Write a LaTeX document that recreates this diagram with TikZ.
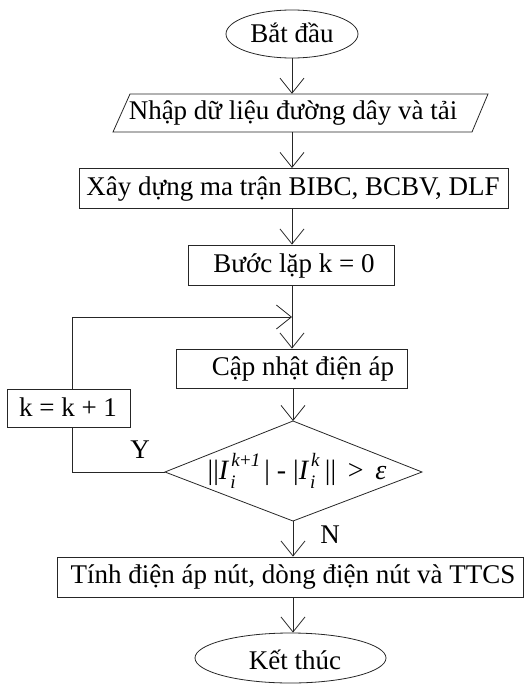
\documentclass[tikz,border=0pt]{standalone}
\usepackage{fontspec}
\setmainfont{Liberation Serif}
\usetikzlibrary{arrows.meta,shapes.geometric}
\newcommand\Iik[1]{\textit{I}\makebox[0pt][l]{\raisebox{-9pt}{\fontsize{19}{19}\selectfont\kern1pt\textit{i}}}\raisebox{13pt}{\fontsize{19}{19}\selectfont\kern2pt #1}}
\tikzset{
  every node/.style={font=\fontsize{27}{31}\selectfont, inner sep=0pt},
  ln/.style={line width=0.8pt, draw=black!85},
  boxnode/.style={ln, draw, rectangle},
  arr/.style={ln, -{Straight Barb[length=15pt,width=24pt,line width=0.8pt]}},
}
\begin{document}
\begin{tikzpicture}[x=1pt,y=-1pt]
\useasboundingbox (0,0) rectangle (528,685);
% start
\node[ln, draw, ellipse, minimum width=132, minimum height=48] (start) at (292,34) {};
\node at (292,33) {Bắt đầu};
% input parallelogram
\draw[ln] (113,132) -- (130,94) -- (488,94) -- (472,132) -- cycle;
\node[minimum width=340, minimum height=38] (inp) at (300,113) {};
\node at (293,113) {Nhập dữ liệu đường dây và tải};
% build
\node[boxnode, minimum width=429, minimum height=40] (build) at (293.5,188) {};
\node at (293,189) {Xây dựng ma trận BIBC, BCBV, DLF};
% init
\node[boxnode, minimum width=206, minimum height=40] (init) at (291,265) {};
\node at (294,266) {Bước lặp k = 0};
% update
\node[boxnode, minimum width=231, minimum height=39] (upd) at (291.5,368.5) {};
\node at (303,369) {Cập nhật điện áp};
% decision
\coordinate (dtop) at (293,421);
\coordinate (dright) at (422,472);
\coordinate (dbot) at (293,521);
\coordinate (dleft) at (165,472);
\draw[ln] (dtop) -- (dright) -- (dbot) -- (dleft) -- cycle;
\node (dtext) at (297,471) {\fontsize{28}{30}\selectfont||\Iik{\textit{k}+\textit{1}}\kern4pt| - |\Iik{\textit{k}}\kern5pt|| \,>\, \textit{ε}};
% increment
\node[boxnode, minimum width=123, minimum height=38] (inc) at (68.5,408) {};
\node at (68,407) {k = k + 1};
% calc
\node[boxnode, minimum width=466, minimum height=40] (calc) at (290,577) {};
\node at (293,577) {Tính điện áp nút, dòng điện nút và TTCS};
% end
\node[ln, draw, ellipse, minimum width=191, minimum height=50] (endn) at (290.5,658) {};
\node at (295,660) {Kết thúc};
% connectors
\draw[arr] (start.south) -- (start.south |- inp.north);
\draw[arr] (292,132) -- (292,168);
\draw[arr] (build.south -| 292,0) -- (init.north -| 292,0);
\draw[arr] (init.south -| 292,0) -- (upd.north -| 292,0);
\coordinate (loopc) at (72,317);
\draw[arr] (inc.north -| loopc) -- (loopc) -- (292,317);
\draw[ln] (dleft) -- (dleft -| loopc) -- (inc.south -| loopc);
\draw[arr] (upd.south -| 293,0) -- (dtop);
\draw[arr] (dbot) -- (calc.north -| dbot);
\draw[arr] (calc.south -| dbot) -- (endn.north -| dbot);
\node at (140,450) {Y};
\node at (330,535) {N};
\end{tikzpicture}
\end{document}
